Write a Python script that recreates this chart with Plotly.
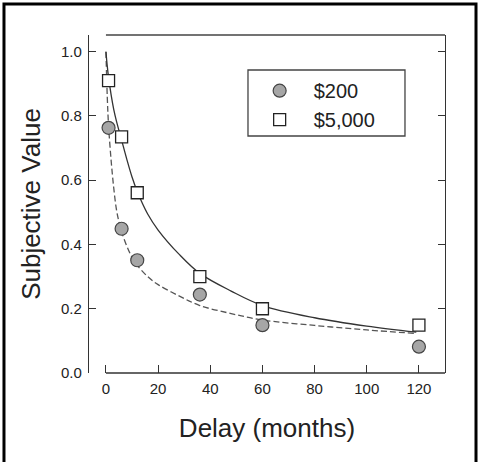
import plotly.graph_objects as go

# Observed data
delay = [1, 6, 12, 36, 60, 120]
sv_200 = [0.763, 0.449, 0.351, 0.244, 0.149, 0.082]
sv_5000 = [0.91, 0.735, 0.561, 0.30, 0.20, 0.149]

fit_x_200 = [0, 0.5, 1, 2, 3, 4, 5, 6, 8, 10, 12, 16, 20, 28, 36, 48, 60, 80, 100, 119]
fit_y_200 = [1.0, 0.86, 0.77, 0.66, 0.575, 0.51, 0.47, 0.44, 0.395, 0.36, 0.335, 0.30,
             0.275, 0.24, 0.21, 0.185, 0.165, 0.148, 0.134, 0.123]
fit_x_5000 = [0, 0.5, 1, 2, 3, 4, 6, 8, 10, 12, 16, 20, 28, 36, 48, 60, 80, 100, 119]
fit_y_5000 = [1.0, 0.955, 0.92, 0.865, 0.82, 0.785, 0.725, 0.665, 0.61, 0.565, 0.495,
              0.445, 0.37, 0.31, 0.255, 0.21, 0.172, 0.146, 0.127]

x_ticks = [0, 20, 40, 60, 80, 100, 120]
y_ticks = [0.0, 0.2, 0.4, 0.6, 0.8, 1.0]

FONT = "Liberation Sans, Arial, sans-serif"
AX = "#333333"

fig = go.Figure()
fig.add_trace(go.Scatter(x=fit_x_200, y=fit_y_200, mode="lines", showlegend=False,
                         line=dict(color="#555555", width=1.3, dash="6px,3px"),
                         line_shape="spline", hoverinfo="skip"))
fig.add_trace(go.Scatter(x=fit_x_5000, y=fit_y_5000, mode="lines", showlegend=False,
                         line=dict(color="#333333", width=1.3),
                         line_shape="spline", hoverinfo="skip"))
fig.add_trace(go.Scatter(x=delay, y=sv_200, mode="markers", name="$200",
                         marker=dict(symbol="circle", size=13, color="#a6a6a6",
                                     line=dict(color="#444444", width=1.2))))
fig.add_trace(go.Scatter(x=delay, y=sv_5000, mode="markers", name="$5,000",
                         marker=dict(symbol="square", size=12, color="white",
                                     line=dict(color="#222222", width=1.3))))

fig.update_layout(
    width=480, height=462,
    margin=dict(l=89, r=35, t=35, b=89),
    paper_bgcolor="white", plot_bgcolor="white",
    font=dict(family=FONT, color="#222222"),
    showlegend=True,
    legend=dict(x=0.44, y=0.893, xanchor="left", yanchor="top",
                borderwidth=0, bgcolor="rgba(0,0,0,0)",
                font=dict(size=20, family=FONT, color="#222222"),
                itemwidth=58, tracegroupgap=0),
    xaxis=dict(range=[-6.5, 130], tickvals=x_ticks, ticks="inside", ticklen=8,
               tickwidth=1.3, tickcolor=AX, showline=False, showgrid=False, zeroline=False,
               tickfont=dict(size=15, family=FONT), ticklabelstandoff=5,
               title=dict(text="Delay (months)", font=dict(size=26, family=FONT), standoff=22)),
    yaxis=dict(range=[0, 1.052], tickvals=y_ticks, tickformat=".1f", ticks="inside",
               ticklen=7, tickwidth=1.3, tickcolor=AX, showline=True,
               linecolor=AX, linewidth=1.3, mirror="ticks", showgrid=False,
               zeroline=False, tickfont=dict(size=15, family=FONT), ticklabelstandoff=3,
               title=dict(text="Subjective Value", font=dict(size=26, family=FONT), standoff=12)),
    shapes=[
        dict(type="line", xref="x", yref="paper", x0=0, x1=130, y0=1, y1=1,
             line=dict(color="#444444", width=1.3)),
        dict(type="line", xref="x", yref="paper", x0=0, x1=130, y0=0, y1=0,
             line=dict(color=AX, width=1.3)),
        dict(type="rect", xref="paper", yref="paper", x0=0.4466, x1=0.8876,
             y0=0.7012, y1=0.8964, line=dict(color="#444444", width=1.3), layer="below"),
        dict(type="rect", xref="paper", yref="paper", x0=-0.2388, x1=1.0871,
             y0=-0.28, y1=1.0917, line=dict(color="black", width=3)),
    ],
)

fig.write_html("out.html")
